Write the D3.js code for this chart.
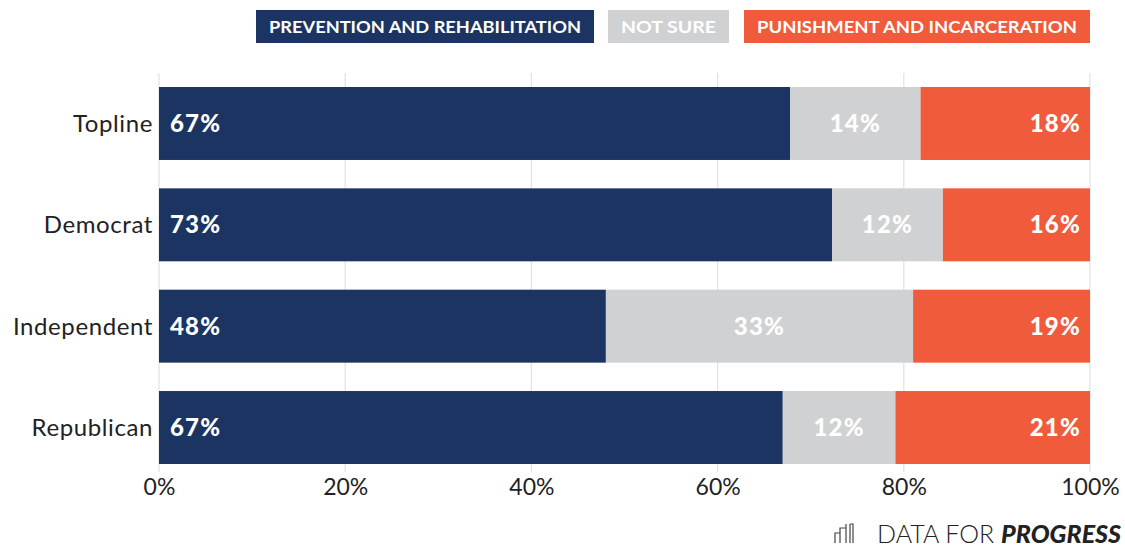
<!DOCTYPE html>
<html><head><meta charset="utf-8">
<script src="https://cdn.jsdelivr.net/npm/d3@7"></script>
<style>body{margin:0;background:#fff}svg{display:block}</style>
</head><body><svg id="c" width="1125" height="548"></svg>
<script>
const categories = ["Topline","Democrat","Independent","Republican"];
const prevention = [67.8, 72.3, 48.0, 67.0];
const notSure    = [14.0, 11.9, 33.0, 12.1];
const punishment = [18.2, 15.8, 19.0, 20.9];
const preventionLabels = ["67%","73%","48%","67%"];
const notSureLabels    = ["14%","12%","33%","12%"];
const punishmentLabels = ["18%","16%","19%","21%"];
const seriesNames = ["PREVENTION AND REHABILITATION","NOT SURE","PUNISHMENT AND INCARCERATION"];
const tickValues = [0,20,40,60,80,100];
const colors = ["#1c3461","#cfd1d2","#f05b3b"];

const svg = d3.select("#c");
const font = "Lato, 'Open Sans', sans-serif";
const x = d3.scaleLinear().domain([0,100]).range([159,1090]);
const y = d3.scaleBand().domain(categories).range([87,464]).paddingInner(0.28).paddingOuter(0);

// gridlines
svg.append("g").selectAll("line").data(tickValues).join("line")
  .attr("x1",d=>x(d)).attr("x2",d=>x(d)).attr("y1",73).attr("y2",472)
  .attr("stroke","#e2e2e2").attr("stroke-width",1.2);

const rows = categories.map((c,i)=>({cat:c, vals:[prevention[i],notSure[i],punishment[i]],
  labels:[preventionLabels[i],notSureLabels[i],punishmentLabels[i]]}));

rows.forEach(r=>{
  let acc=0;
  const g = svg.append("g");
  r.vals.forEach((v,j)=>{
    const x0=x(acc), x1=x(acc+v); acc+=v;
    g.append("rect").attr("x",x0).attr("y",y(r.cat)).attr("width",x1-x0).attr("height",y.bandwidth()).attr("fill",colors[j]);
    let tx, anchor;
    if(j===0){tx=x0+11;anchor="start";}
    else if(j===1){tx=(x0+x1)/2;anchor="middle";}
    else {tx=x1-9;anchor="end";}
    g.append("text").attr("x",tx).attr("y",y(r.cat)+y.bandwidth()/2).attr("dy","0.36em")
      .attr("text-anchor",anchor).attr("fill","#fff").attr("font-family",font).attr("font-weight",900)
      .attr("font-size",24).attr("letter-spacing",1.2).text(r.labels[j]);
  });
  svg.append("text").attr("x",153).attr("y",y(r.cat)+y.bandwidth()/2).attr("dy","0.36em")
    .attr("text-anchor","end").attr("fill","#222").attr("font-family",font).attr("font-size",24)
    .attr("letter-spacing",0.6).text(r.cat);
});

// x axis
const ax = svg.append("g").attr("transform","translate(0,469)")
  .call(d3.axisBottom(x).tickValues(tickValues).tickFormat(d=>d+"%").tickSize(0).tickPadding(10));
ax.select(".domain").remove();
ax.selectAll("text").attr("font-family",font).attr("font-size",23).attr("fill","#222").attr("dy","0.71em");

// legend
const legendBoxes = [[256,594],[608,729],[744,1090]];
seriesNames.forEach((n,i)=>{
  const [a,b]=legendBoxes[i];
  svg.append("rect").attr("x",a).attr("y",10).attr("width",b-a).attr("height",33).attr("fill",colors[i]);
  const t = svg.append("text").attr("x",(a+b)/2).attr("y",27).attr("dy","0.36em").attr("text-anchor","middle")
    .attr("fill","#fff").attr("font-family",font).attr("font-weight",700).attr("font-size",17).text(n);
  t.attr("textLength",(b-a)-26).attr("lengthAdjust","spacingAndGlyphs");
});

// logo
const lg = svg.append("g").attr("transform","translate(835,524)");
lg.append("path").attr("d","M0,19 V9 H5 M5,19 V4 H11 M11,0 V19 M15,0 V19 M15,0 H18 V19")
  .attr("fill","none").attr("stroke","#444").attr("stroke-width",1.2);
svg.append("text").attr("x",1121).attr("y",543).attr("text-anchor","end").attr("font-family",font)
  .attr("font-size",25).attr("fill","#222")
  .call(t=>{t.append("tspan").attr("font-weight",300).text("DATA FOR ");
            t.append("tspan").attr("font-weight",900).attr("font-style","italic").text("PROGRESS");});
</script></body></html>
